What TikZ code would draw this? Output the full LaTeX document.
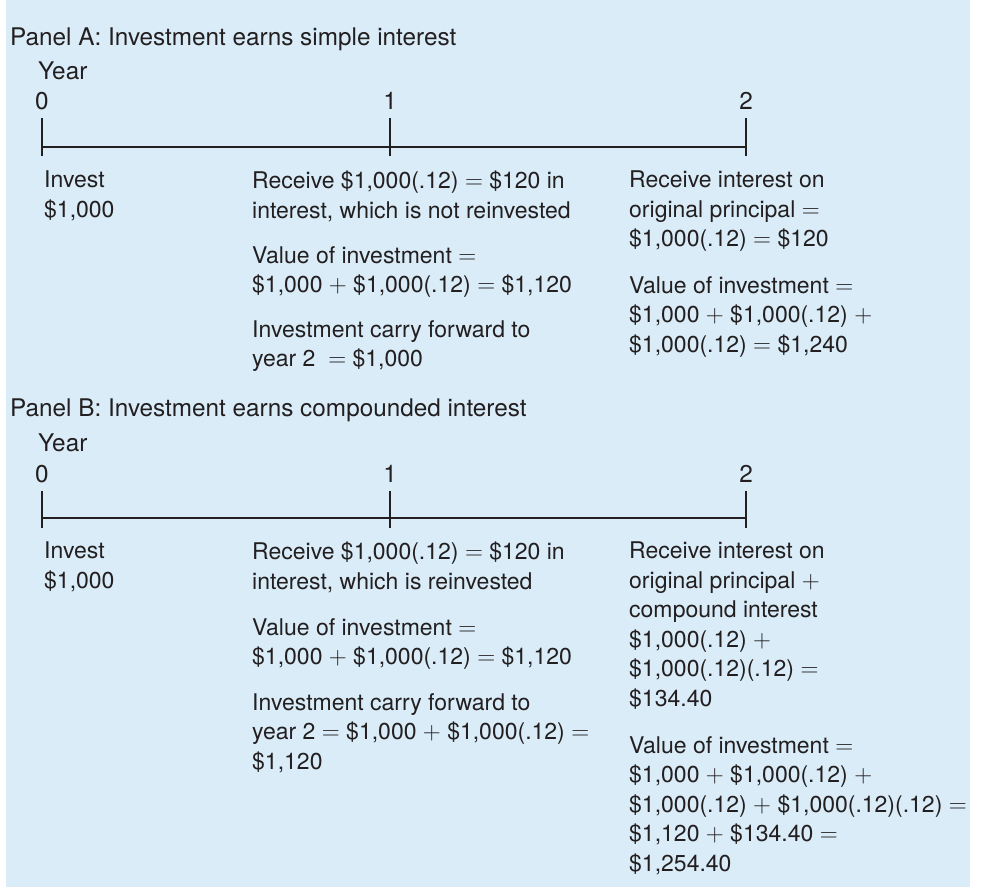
\documentclass[tikz,border=0pt]{standalone}
\usepackage{fontspec}
\setmainfont{TeX Gyre Heros}
\usepackage{tikz}
\usetikzlibrary{positioning}
\definecolor{panelblue}{RGB}{217,236,248}
\definecolor{inkgray}{RGB}{35,31,32}
\newcommand{\eqs}{$=$}
\newcommand{\pls}{$+$}

\begin{document}
\begin{tikzpicture}[x=1pt,y=-1pt,
    txt/.style={font=\fontsize{23}{29.5}\selectfont, align=left, anchor=north west,
      inner sep=0pt, text=inkgray, execute at begin node=\strut},
    head/.style={txt, font=\fontsize{24.3}{29.5}\selectfont},
    axis/.style={draw=inkgray, line width=2.6pt}]
  \useasboundingbox (0,0) rectangle (992,887);
  \fill[panelblue] (6,0) rectangle (970,887);

  % Panel A
  \node[head] (panA) at (10,25) {Panel A: Investment earns simple interest};
  \node[head] (yearA) at (38,59) {Year};
  \coordinate (a0) at (42,147);
  \coordinate (a1) at (390,147);
  \coordinate (a2) at (746,147);
  \draw[axis] (a0) -- (a2);
  \foreach \p/\n in {a0/0,a1/1,a2/2} {
    \draw[axis] ([yshift=29pt]\p) -- ([yshift=-9pt]\p);
    \node[head, anchor=north] (lab\p) at ([yshift=58pt]\p) {\n};
  }
  \node[txt] (investA) at (44,171) {Invest\\\$1,000};
  \node[txt] (recvA) at (252,171) {Receive \$1,000(.12) \eqs{} \$120 in\\interest, which is not reinvested};
  \node[txt] (valA) at (252,246) {Value of investment \eqs\\\$1,000 \pls{} \$1,000(.12) \eqs{} \$1,120};
  \node[txt] (carryA) at (252,320) {Investment carry forward to\\year 2~ \eqs{} \$1,000};
  \node[txt] (intA) at (629,171) {Receive interest on\\original principal \eqs\\\$1,000(.12) \eqs{} \$120};
  \node[txt] (totA) at (629,276) {Value of investment \eqs\\\$1,000 \pls{} \$1,000(.12) \pls\\\$1,000(.12) \eqs{} \$1,240};

  % Panel B
  \node[head] (panB) at (10,396) {Panel B: Investment earns compounded interest};
  \node[head] (yearB) at (38,431) {Year};
  \coordinate (b0) at (42,518);
  \coordinate (b1) at (390,518);
  \coordinate (b2) at (746,518);
  \draw[axis] (b0) -- (b2);
  \foreach \p/\n in {b0/0,b1/1,b2/2} {
    \draw[axis] ([yshift=27pt]\p) -- ([yshift=-10pt]\p);
    \node[head, anchor=north] (lab\p) at ([yshift=56pt]\p) {\n};
  }
  \node[txt] (investB) at (44,542) {Invest\\\$1,000};
  \node[txt] (recvB) at (252,542) {Receive \$1,000(.12) \eqs{} \$120 in\\interest, which is reinvested};
  \node[txt] (valB) at (252,618) {Value of investment \eqs\\\$1,000 \pls{} \$1,000(.12) \eqs{} \$1,120};
  \node[txt] (carryB) at (252,693) {Investment carry forward to\\year 2 \eqs{} \$1,000 \pls{} \$1,000(.12) \eqs\\\$1,120};
  \node[txt] (intB) at (629,542) {Receive interest on\\original principal \pls\\compound interest\\\$1,000(.12) \pls\\\$1,000(.12)(.12) \eqs\\\$134.40};
  \node[txt] (totB) at (629,736) {Value of investment \eqs\\\$1,000 \pls{} \$1,000(.12) \pls\\\$1,000(.12) \pls{} \$1,000(.12)(.12) \eqs\\\$1,120 \pls{} \$134.40 \eqs\\\$1,254.40};
\end{tikzpicture}
\end{document}
